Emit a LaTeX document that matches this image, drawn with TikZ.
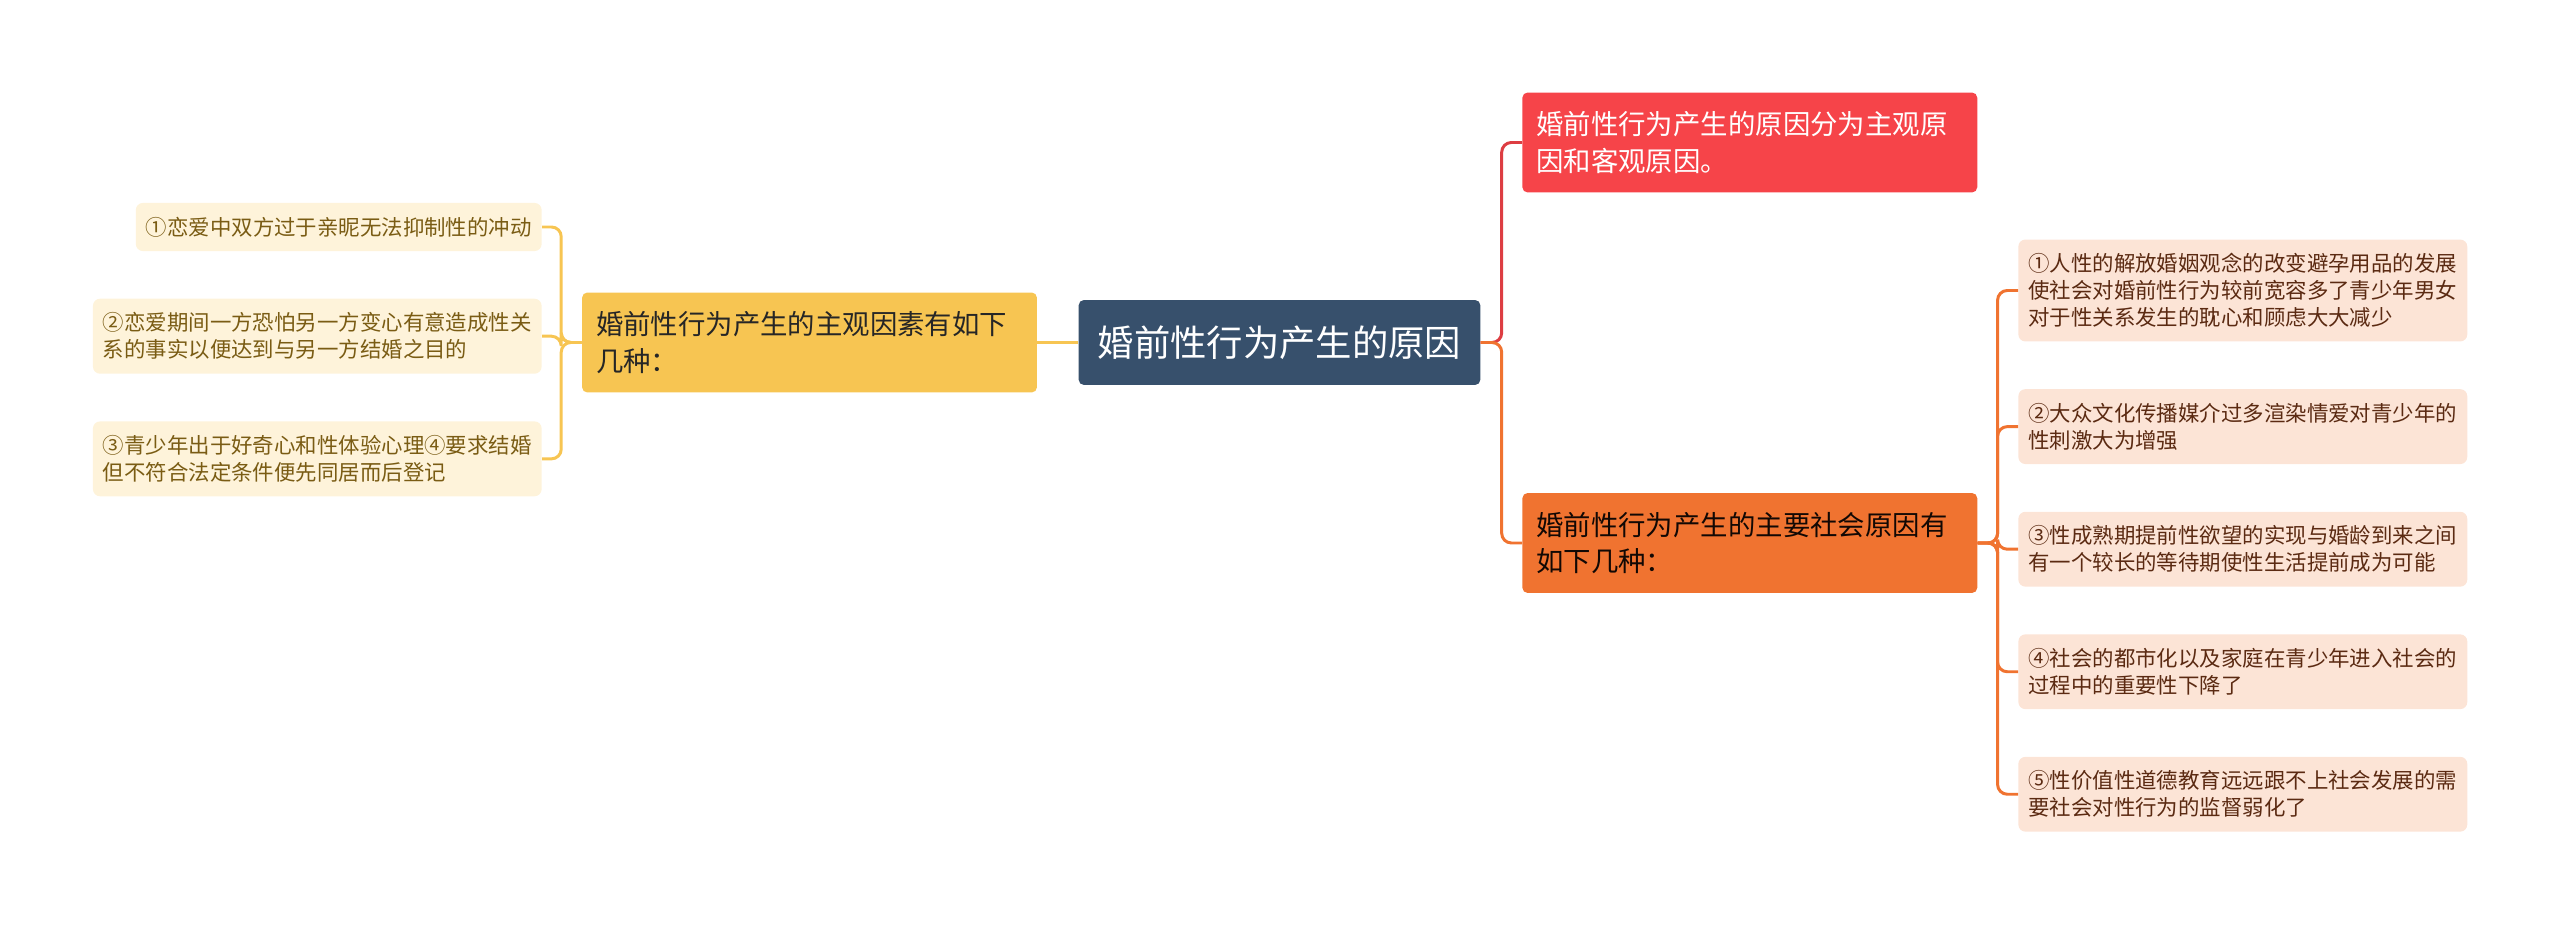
\documentclass[tikz,border=0pt]{standalone}
\usepackage{fontspec}
\setmainfont{Noto Sans CJK SC}
\usepackage{tikz}
\usetikzlibrary{positioning}

\definecolor{rootblue}{HTML}{37506C}
\definecolor{subjyellow}{HTML}{F7C552}
\definecolor{causered}{HTML}{F64449}
\definecolor{socialorange}{HTML}{F07330}
\definecolor{leafcream}{HTML}{FEF3DA}
\definecolor{leafpeach}{HTML}{FCE4D6}
\definecolor{creamtext}{HTML}{7A5C14}
\definecolor{peachtext}{HTML}{5B2A12}

\begin{document}
\begin{tikzpicture}[
  x=0.02cm,y=-0.02cm,
  node distance=0.94cm,
  root/.style={fill=rootblue,text=white,rounded corners=3pt,minimum height=1.7cm,inner xsep=0.38cm,font=\fontsize{20.7}{24}\selectfont},
  branch/.style={rounded corners=3pt,align=left,text width=8.54cm,minimum height=2cm,inner xsep=0.28cm,font=\fontsize{15.6}{21}\selectfont},
  leaf/.style={rounded corners=4pt,align=left,inner xsep=0.2cm,inner ysep=0.28cm,font=\fontsize{12.2}{15.3}\selectfont},
  creamleaf/.style={leaf,fill=leafcream,text=creamtext},
  peachleaf/.style={leaf,fill=leafpeach,text=peachtext,text width=8.58cm},
  link/.style={line width=1.7pt,rounded corners=5.5pt},
  yellowlink/.style={link,subjyellow},
  redlink/.style={link,causered!90!black},
  orangelink/.style={link,socialorange}
]
\useasboundingbox (0,0) rectangle (2560,925);

\node[root] (root) at (1279.5,342.5) {婚前性行为产生的原因};

% left side
\node[branch,fill=subjyellow,text=black!85,left=0.82cm of root] (subj) {婚前性行为产生的主观因素有如下\\几种：};
\node[creamleaf,anchor=east] (l1) at (542,227) {①恋爱中双方过于亲昵无法抑制性的冲动};
\node[creamleaf,below=of l1.south east,anchor=north east] (l2) {②恋爱期间一方恐怕另一方变心有意造成性关\\系的事实以便达到与另一方结婚之目的};
\node[creamleaf,below=of l2.south east,anchor=north east] (l3) {③青少年出于好奇心和性体验心理④要求结婚\\但不符合法定条件便先同居而后登记};

% right side
\node[branch,fill=causered,text=white,anchor=west] (cause) at (1522,142.5) {婚前性行为产生的原因分为主观原\\因和客观原因。};
\node[branch,fill=socialorange,text=black!80!peachtext,anchor=west] (social) at (1522,543) {婚前性行为产生的主要社会原因有\\如下几种：};
\node[peachleaf,anchor=west] (r1) at (2018,290.5) {①人性的解放婚姻观念的改变避孕用品的发展\\使社会对婚前性行为较前宽容多了青少年男女\\对于性关系发生的耽心和顾虑大大减少};
\node[peachleaf,below=of r1] (r2) {②大众文化传播媒介过多渲染情爱对青少年的\\性刺激大为增强};
\node[peachleaf,below=of r2] (r3) {③性成熟期提前性欲望的实现与婚龄到来之间\\有一个较长的等待期使性生活提前成为可能};
\node[peachleaf,below=of r3] (r4) {④社会的都市化以及家庭在青少年进入社会的\\过程中的重要性下降了};
\node[peachleaf,below=of r4] (r5) {⑤性价值性道德教育远远跟不上社会发展的需\\要社会对性行为的监督弱化了};

% connectors
\draw[yellowlink] (root.west) -- (subj.east);
\foreach \n in {l1,l2,l3}
  \draw[yellowlink] (subj.west) -- ++(-20.5,0) |- (\n.east);
\draw[redlink] (root.east) -- ++(21,0) |- (cause.west);
\draw[orangelink] (root.east) -- ++(21,0) |- (social.west);
\foreach \n in {r1,r2,r3,r4,r5}
  \draw[orangelink] (social.east) -- ++(20,0) |- (\n.west);
\end{tikzpicture}
\end{document}
